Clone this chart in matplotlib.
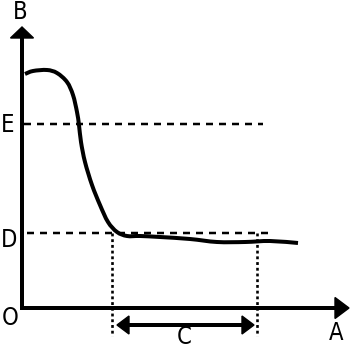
import matplotlib
matplotlib.use("Agg")
import matplotlib.pyplot as plt
from matplotlib.patches import Polygon, PathPatch
from matplotlib.path import Path

# Curve data (x along A, y along B), origin at the axis corner
curve_x = [3, 11, 25, 35, 45, 51, 55, 57, 59, 63, 70, 78, 86, 95, 105, 118, 138, 168, 195, 223, 248, 276]
curve_y = [234, 237, 238, 235, 226, 213, 196, 183, 166, 146, 123, 103, 86, 76, 72, 72, 71, 69, 66, 66, 67, 65]

level_E = 184
level_D = 75
E_end = 241
D_end = 250
c_start = 90
c_end = 235
# label: (x, y, horizontal alignment)
axis_labels = {"A": (314, -25, "center"), "B": (-2, 296, "center"), "O": (-20, -10, "left"),
               "D": (-21.5, 68, "left"), "E": (-21.5, 183, "left"), "C": (162, -29, "center")}

PX = 0.72  # points per pixel at dpi 100

fig = plt.figure(figsize=(3.5, 3.5), dpi=100)
ax = fig.add_axes([0, 0, 1, 1])
ax.set_xlim(-22, 328)
ax.set_ylim(-42, 308)
ax.axis("off")

# axes
ax.plot([0, 0], [-2, 272], color="black", lw=4 * PX, solid_capstyle="butt")
ax.plot([-2, 315], [0, 0], color="black", lw=4 * PX, solid_capstyle="butt")
ax.add_patch(Polygon([[-11.5, 270], [11.5, 270], [0, 281]], closed=True, color="black"))
ax.add_patch(Polygon([[313, 10.5], [313, -10.5], [327, 0]], closed=True, color="black"))

# dashed levels
ax.plot([2, E_end], [level_E, level_E], color="black", lw=2.5 * PX, dashes=(7 / 2.5, 6 / 2.5), dash_capstyle="butt")
ax.plot([5, D_end], [level_D, level_D], color="black", lw=2.5 * PX, dashes=(7 / 2.5, 6 / 2.5), dash_capstyle="butt")

# dotted verticals
for xv in (c_start, c_end):
    ax.plot([xv, xv], [level_D, -28], color="black", lw=2.6 * PX, dashes=(1.1, 1.1), dash_capstyle="butt")

# smooth curve through the points (Catmull-Rom rendered as cubic Bezier)
pts = list(zip(curve_x, curve_y))
verts = [pts[0]]
codes = [Path.MOVETO]
for i in range(len(pts) - 1):
    p0 = pts[i - 1] if i > 0 else pts[i]
    p1 = pts[i]
    p2 = pts[i + 1]
    p3 = pts[i + 2] if i + 2 < len(pts) else pts[i + 1]
    c1 = (p1[0] + (p2[0] - p0[0]) / 6, p1[1] + (p2[1] - p0[1]) / 6)
    c2 = (p2[0] - (p3[0] - p1[0]) / 6, p2[1] - (p3[1] - p1[1]) / 6)
    verts += [c1, c2, p2]
    codes += [Path.CURVE4] * 3
ax.add_patch(PathPatch(Path(verts, codes), facecolor="none", edgecolor="black",
                       lw=4 * PX, capstyle="butt", joinstyle="round"))

# double arrow C
ya = -17
ax.plot([c_start + 12, c_end - 12], [ya, ya], color="black", lw=4 * PX, solid_capstyle="butt")
ax.add_patch(Polygon([[c_start + 5, ya], [c_start + 17, ya + 9], [c_start + 17, ya - 9]], closed=True, color="black"))
ax.add_patch(Polygon([[c_end - 3, ya], [c_end - 15, ya + 9], [c_end - 15, ya - 9]], closed=True, color="black"))

for lab, (lx, ly, ha) in axis_labels.items():
    ax.text(lx, ly, lab, ha=ha, va="center", fontsize=17, family=["DejaVu Sans"],
            fontstretch="condensed")

fig.savefig("out.png", dpi=100)
